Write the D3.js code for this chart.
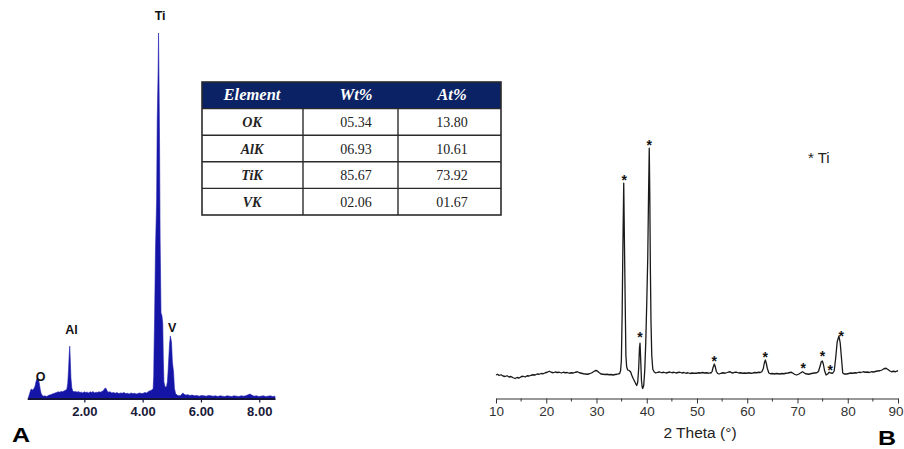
<!DOCTYPE html>
<html>
<head>
<meta charset="utf-8">
<script src="https://cdn.jsdelivr.net/npm/d3@7"></script>
<style>
  body { margin: 0; background: #fff; }
  svg { display: block; }
</style>
</head>
<body>
<svg id="chart" width="904" height="449"></svg>
<script>
// EDS spectrum (panel A): [energy keV, counts, Ti peak = 1000]
const edsSpectrum = [
  [0.08, 0], [0.10, 6], [0.13, 14], [0.16, 22], [0.19, 25], [0.22, 21], [0.25, 24], [0.28, 27],
  [0.31, 33], [0.34, 44], [0.37, 52], [0.40, 55], [0.43, 50], [0.46, 38], [0.49, 22], [0.52, 12],
  [0.56, 7], [0.60, 5], [0.65, 6], [0.70, 4], [0.75, 6], [0.80, 8], [0.85, 9], [0.90, 11],
  [0.95, 12], [1.00, 14], [1.05, 15], [1.10, 17], [1.15, 16], [1.20, 18], [1.25, 17], [1.30, 19],
  [1.35, 21], [1.40, 24], [1.43, 40], [1.46, 80], [1.48, 118], [1.50, 142], [1.52, 100], [1.54, 55],
  [1.57, 28], [1.60, 19], [1.65, 17], [1.70, 18], [1.75, 16], [1.80, 18], [1.85, 15], [1.90, 16],
  [1.95, 14], [2.00, 17], [2.05, 15], [2.10, 16], [2.15, 14], [2.20, 17], [2.25, 15], [2.30, 18],
  [2.35, 14], [2.40, 16], [2.45, 15], [2.50, 17], [2.55, 16], [2.60, 18], [2.65, 20], [2.70, 26],
  [2.74, 27], [2.78, 20], [2.82, 16], [2.88, 17], [2.94, 14], [3.00, 15], [3.06, 13], [3.12, 15],
  [3.18, 12], [3.24, 14], [3.30, 13], [3.36, 15], [3.42, 12], [3.48, 13], [3.54, 11], [3.60, 14],
  [3.66, 12], [3.72, 13], [3.78, 11], [3.84, 12], [3.90, 14], [3.96, 12], [4.02, 13], [4.08, 15],
  [4.14, 14], [4.20, 18], [4.26, 20], [4.32, 22], [4.36, 26], [4.38, 60], [4.39, 126], [4.41, 219],
  [4.44, 405], [4.48, 542], [4.50, 762], [4.53, 893], [4.545, 1000], [4.56, 885], [4.58, 700], [4.60, 433],
  [4.63, 233], [4.66, 226], [4.69, 205], [4.71, 104], [4.73, 44], [4.77, 30], [4.82, 31], [4.85, 45],
  [4.87, 70], [4.89, 99], [4.92, 145], [4.95, 170], [4.99, 153], [5.02, 99], [5.06, 71], [5.09, 27],
  [5.13, 12], [5.18, 8], [5.24, 6], [5.30, 7], [5.35, 11], [5.38, 14], [5.42, 10], [5.48, 8],
  [5.55, 9], [5.62, 7], [5.70, 8], [5.78, 6], [5.86, 7], [5.94, 5], [6.02, 7], [6.10, 6],
  [6.18, 5], [6.26, 7], [6.34, 6], [6.42, 5], [6.50, 6], [6.58, 4], [6.66, 6], [6.74, 5],
  [6.82, 4], [6.90, 6], [6.98, 5], [7.06, 4], [7.14, 6], [7.22, 5], [7.30, 4], [7.38, 6],
  [7.46, 5], [7.54, 6], [7.62, 9], [7.68, 11], [7.74, 8], [7.82, 5], [7.90, 6], [7.98, 4],
  [8.06, 5], [8.14, 6], [8.22, 4], [8.30, 5], [8.38, 6], [8.46, 4], [8.54, 5]
];
const edsTicks = [2, 4, 6, 8];
// peak labels: [text, keV, count level of the text baseline]
const edsLabels = [['O', 0.5, 47], ['Al', 1.56, 175], ['Ti', 4.6, 1036], ['V', 5.01, 181]];

// EDS quantification table
const tableHeader = ['Element', 'Wt%', 'At%'];
const elements = ['OK', 'AlK', 'TiK', 'VK'];
const wtPct = ['05.34', '06.93', '85.67', '02.06'];
const atPct = ['13.80', '10.61', '73.92', '01.67'];

// XRD pattern (panel B): [2 theta deg, intensity a.u.]
const xrdPattern = [
  [10.0, 92], [10.3, 95], [10.6, 90], [11.0, 93], [11.4, 88], [11.8, 86], [12.2, 89], [12.6, 84],
  [13.0, 86], [13.4, 81], [13.8, 78], [14.2, 82], [14.6, 80], [15.0, 85], [15.4, 87], [15.8, 84],
  [16.2, 89], [16.6, 88], [17.0, 91], [17.4, 93], [17.8, 92], [18.2, 96], [18.6, 95], [19.0, 98],
  [19.4, 97], [19.8, 101], [20.2, 103], [20.6, 107], [21.0, 103], [21.4, 101], [21.8, 104], [22.2, 102],
  [22.6, 103], [23.0, 100], [23.4, 103], [23.8, 101], [24.2, 102], [24.6, 99], [25.0, 101], [25.4, 100],
  [25.8, 103], [26.2, 105], [26.6, 101], [27.0, 99], [27.4, 97], [27.8, 96], [28.2, 95], [28.6, 97],
  [29.0, 100], [29.4, 105], [29.8, 110], [30.1, 109], [30.5, 102], [30.9, 96], [31.3, 95], [31.7, 94],
  [32.1, 95], [32.5, 93], [32.9, 94], [33.3, 92], [33.7, 94], [34.1, 95], [34.4, 97], [34.6, 98],
  [34.8, 110], [34.95, 150], [35.1, 330], [35.25, 600], [35.42, 859], [35.55, 640], [35.7, 400], [35.85, 170],
  [36.0, 125], [36.2, 112], [36.5, 110], [36.8, 104], [37.0, 92], [37.3, 78], [37.6, 66], [37.85, 55],
  [38.0, 50], [38.2, 62], [38.4, 120], [38.55, 200], [38.66, 219], [38.8, 150], [38.95, 70], [39.1, 42],
  [39.2, 38], [39.4, 50], [39.6, 110], [39.8, 220], [40.0, 380], [40.2, 560], [40.35, 800], [40.5, 999],
  [40.6, 820], [40.72, 520], [40.85, 300], [41.0, 170], [41.2, 115], [41.5, 104], [41.8, 100], [42.2, 103],
  [42.6, 104], [43.0, 101], [43.4, 103], [43.8, 100], [44.2, 102], [44.6, 104], [45.0, 101], [45.4, 103],
  [45.8, 100], [46.2, 102], [46.6, 103], [47.0, 100], [47.4, 102], [47.8, 99], [48.2, 101], [48.6, 98],
  [49.0, 100], [49.4, 99], [49.9, 99], [50.3, 101], [50.7, 100], [51.1, 102], [51.5, 100], [51.9, 101],
  [52.3, 99], [52.6, 101], [52.8, 100], [53.0, 106], [53.2, 122], [53.45, 136], [53.65, 124], [53.85, 106],
  [54.1, 98], [54.4, 96], [54.8, 99], [55.2, 101], [55.6, 99], [56.0, 102], [56.3, 104], [56.6, 105],
  [56.9, 101], [57.2, 100], [57.5, 103], [57.9, 103], [58.3, 100], [58.7, 101], [59.1, 99], [59.5, 100],
  [59.9, 99], [60.3, 101], [60.7, 99], [61.1, 100], [61.5, 102], [61.9, 101], [62.3, 103], [62.6, 102],
  [62.9, 105], [63.2, 118], [63.4, 140], [63.6, 152], [63.8, 138], [64.0, 118], [64.3, 100], [64.6, 97],
  [65.0, 98], [65.4, 96], [65.8, 98], [66.2, 97], [66.5, 96], [66.9, 98], [67.3, 97], [67.7, 99],
  [68.1, 100], [68.5, 102], [68.8, 103], [69.1, 99], [69.4, 95], [69.8, 92], [70.2, 95], [70.6, 100],
  [71.0, 105], [71.3, 101], [71.6, 97], [72.0, 96], [72.2, 95], [72.6, 97], [73.0, 99], [73.4, 100],
  [73.8, 101], [74.0, 103], [74.2, 108], [74.5, 128], [74.75, 146], [74.95, 148], [75.15, 135], [75.4, 108],
  [75.7, 92], [76.0, 96], [76.3, 103], [76.6, 100], [77.0, 99], [77.3, 108], [77.6, 160], [77.9, 225],
  [78.25, 248], [78.5, 220], [78.75, 160], [79.0, 100], [79.3, 96], [79.8, 96], [80.2, 98], [80.6, 100],
  [81.0, 99], [81.4, 101], [81.8, 100], [82.2, 103], [82.6, 102], [83.1, 105], [83.5, 103], [83.9, 104],
  [84.3, 102], [84.7, 105], [85.1, 104], [85.5, 106], [85.9, 108], [86.4, 109], [86.8, 112], [87.2, 117],
  [87.6, 119], [88.0, 114], [88.4, 108], [88.7, 105], [89.1, 107], [89.5, 105], [89.8, 108], [90.0, 109]
];
const xrdTicks = [10, 20, 30, 40, 50, 60, 70, 80, 90];
const xrdMinorTicks = [15, 25, 35, 45, 55, 65, 75, 85];
// star marks: [2 theta, intensity level of the mark]
const xrdStars = [
  [35.5, 888], [38.66, 259], [40.5, 1028], [53.45, 163], [63.6, 181],
  [71.15, 135], [74.95, 183], [76.5, 129], [78.7, 264]
];

const svg = d3.select('#chart');

// ---------- panel A ----------
const xA = d3.scaleLinear().domain([0.04, 8.54]).range([27.2, 275]);
const yA = d3.scaleLinear().domain([0, 1000]).range([398, 33]);

const areaA = d3
  .area()
  .x(d => xA(d[0]))
  .y0(yA(0))
  .y1(d => yA(d[1]));

svg
  .append('path')
  .datum(edsSpectrum)
  .attr('fill', '#1414a6')
  .attr('stroke', '#2020b0')
  .attr('stroke-width', 0.6)
  .attr('d', areaA);

const axisA = svg
  .append('g')
  .attr('transform', 'translate(0, 398.5)')
  .call(
    d3
      .axisBottom(xA)
      .tickValues(edsTicks)
      .tickSize(4)
      .tickSizeOuter(0)
      .tickFormat(d3.format('.2f'))
  );
axisA.select('.domain').attr('stroke', '#14143a').attr('stroke-width', 2);
axisA.selectAll('.tick line').attr('stroke', '#14143a').attr('stroke-width', 1.2);
axisA
  .selectAll('.tick text')
  .attr('y', 8)
  .attr('fill', '#1a1a3a')
  .style('font-family', 'Liberation Sans, Arial, sans-serif')
  .style('font-size', '13px')
  .style('font-weight', 'bold');

svg
  .selectAll('.eds-label')
  .data(edsLabels)
  .enter()
  .append('text')
  .attr('class', 'eds-label')
  .attr('x', d => xA(d[1]))
  .attr('y', d => yA(d[2]))
  .attr('text-anchor', 'middle')
  .attr('fill', '#111')
  .style('font-family', 'Liberation Sans, Arial, sans-serif')
  .style('font-size', '12.5px')
  .style('font-weight', 'bold')
  .text(d => d[0]);

// ---------- table ----------
const colEdges = [202, 303, 398, 501];
const colText = [252, 356, 452];
const rowY = d3.scaleBand().domain(d3.range(5)).range([82, 215]);

const table = svg.append('g').attr('class', 'eds-table');

table
  .append('rect')
  .attr('x', colEdges[0])
  .attr('y', rowY(0))
  .attr('width', colEdges[3] - colEdges[0])
  .attr('height', rowY.bandwidth())
  .attr('fill', '#0b2265');

const rows = [tableHeader].concat(elements.map((e, i) => [e, wtPct[i], atPct[i]]));

rows.forEach((row, r) => {
  row.forEach((cell, c) => {
    const header = r === 0;
    table
      .append('text')
      .attr('x', colText[c])
      .attr('y', rowY(r) + rowY.bandwidth() / 2 + 5)
      .attr('text-anchor', 'middle')
      .attr('fill', header ? '#ffffff' : '#222')
      .style('font-family', 'Liberation Serif, Times New Roman, serif')
      .style('font-size', header ? '16.5px' : '14px')
      .style('font-weight', header || c === 0 ? 'bold' : 'normal')
      .style('font-style', header || c === 0 ? 'italic' : 'normal')
      .text(cell);
  });
});

table
  .selectAll('.hline')
  .data(d3.range(1, 5))
  .enter()
  .append('line')
  .attr('x1', colEdges[0])
  .attr('x2', colEdges[3])
  .attr('y1', d => rowY(d))
  .attr('y2', d => rowY(d))
  .attr('stroke', '#2b2b2b')
  .attr('stroke-width', 1.4);

table
  .selectAll('.vline')
  .data([1, 2])
  .enter()
  .append('line')
  .attr('x1', d => colEdges[d])
  .attr('x2', d => colEdges[d])
  .attr('y1', rowY(1))
  .attr('y2', rowY(4) + rowY.bandwidth())
  .attr('stroke', '#2b2b2b')
  .attr('stroke-width', 1.4);

table
  .append('rect')
  .attr('x', colEdges[0])
  .attr('y', rowY(0))
  .attr('width', colEdges[3] - colEdges[0])
  .attr('height', rowY(4) + rowY.bandwidth() - rowY(0))
  .attr('fill', 'none')
  .attr('stroke', '#2b2b2b')
  .attr('stroke-width', 1.6);

// ---------- panel B ----------
const xB = d3.scaleLinear().domain([10, 90]).range([496, 898]);
const yB = d3.scaleLinear().domain([0, 1000]).range([398, 148]);

const lineB = d3
  .line()
  .x(d => xB(d[0]))
  .y(d => yB(d[1]));

svg
  .append('path')
  .datum(xrdPattern)
  .attr('fill', 'none')
  .attr('stroke', '#1a1a1a')
  .attr('stroke-width', 1.3)
  .attr('stroke-linejoin', 'round')
  .attr('d', lineB);

const axisB = svg
  .append('g')
  .attr('transform', 'translate(0, 398.5)')
  .call(d3.axisBottom(xB).tickValues(xrdTicks).tickSize(5).tickSizeOuter(0));
axisB.select('.domain').attr('stroke', '#333');
axisB.selectAll('.tick line').attr('stroke', '#333');
axisB
  .selectAll('.tick text')
  .attr('y', 8)
  .attr('fill', '#333')
  .style('font-family', 'Liberation Sans, Arial, sans-serif')
  .style('font-size', '13.5px');
// keep the last label inside the picture
axisB
  .selectAll('.tick text')
  .filter(d => d === 90)
  .attr('x', -2.5);

axisB
  .selectAll('.minor')
  .data(xrdMinorTicks)
  .enter()
  .append('line')
  .attr('class', 'minor')
  .attr('x1', d => xB(d))
  .attr('x2', d => xB(d))
  .attr('y1', 0)
  .attr('y2', 3)
  .attr('stroke', '#333');

svg
  .append('text')
  .attr('x', 700)
  .attr('y', 438)
  .attr('text-anchor', 'middle')
  .attr('fill', '#222')
  .style('font-family', 'Liberation Sans, Arial, sans-serif')
  .style('font-size', '15.5px')
  .text('2 Theta (°)');

svg
  .selectAll('.star')
  .data(xrdStars)
  .enter()
  .append('text')
  .attr('class', 'star')
  .attr('x', d => xB(d[0]))
  .attr('y', d => yB(d[1]) + 9)
  .attr('text-anchor', 'middle')
  .attr('fill', '#111')
  .style('font-family', 'Liberation Sans, Arial, sans-serif')
  .style('font-size', '14px')
  .style('font-weight', 'bold')
  .text('*');

const legend = svg.append('g').attr('transform', 'translate(808, 162.5)');
legend
  .append('text')
  .attr('fill', '#222')
  .style('font-family', 'Liberation Sans, Arial, sans-serif')
  .style('font-size', '15px')
  .text('* Ti');

// panel letters
[['A', 12, 442], ['B', 878, 445]].forEach(([t, x, y]) => {
  svg
    .append('text')
    .attr('transform', `translate(${x}, ${y}) scale(1.25, 1)`)
    .attr('fill', '#000')
    .style('font-family', 'Liberation Sans, Arial, sans-serif')
    .style('font-size', '20px')
    .style('font-weight', 'bold')
    .text(t);
});
</script>
</body>
</html>
